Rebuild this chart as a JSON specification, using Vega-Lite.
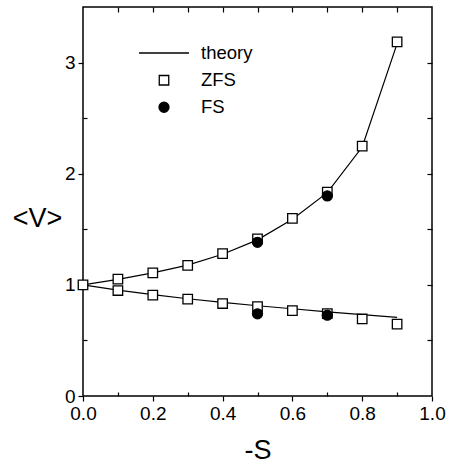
{
  "$schema": "https://vega.github.io/schema/vega-lite/v6.json",
  "width": 349,
  "height": 389,
  "autosize": "none",
  "padding": {"left": 83, "top": 7, "right": 22, "bottom": 71},
  "background": "white",
  "datasets": {
    "theory": [
      {"s": 0.0, "v": 1.0, "branch": "upper"},
      {"s": 0.1, "v": 1.05, "branch": "upper"},
      {"s": 0.2, "v": 1.108, "branch": "upper"},
      {"s": 0.3, "v": 1.178, "branch": "upper"},
      {"s": 0.4, "v": 1.275, "branch": "upper"},
      {"s": 0.5, "v": 1.405, "branch": "upper"},
      {"s": 0.6, "v": 1.59, "branch": "upper"},
      {"s": 0.7, "v": 1.83, "branch": "upper"},
      {"s": 0.8, "v": 2.24, "branch": "upper"},
      {"s": 0.9, "v": 3.17, "branch": "upper"},
      {"s": 0.0, "v": 1.0, "branch": "lower"},
      {"s": 0.1, "v": 0.953, "branch": "lower"},
      {"s": 0.2, "v": 0.912, "branch": "lower"},
      {"s": 0.3, "v": 0.875, "branch": "lower"},
      {"s": 0.4, "v": 0.842, "branch": "lower"},
      {"s": 0.5, "v": 0.812, "branch": "lower"},
      {"s": 0.6, "v": 0.785, "branch": "lower"},
      {"s": 0.7, "v": 0.757, "branch": "lower"},
      {"s": 0.8, "v": 0.732, "branch": "lower"},
      {"s": 0.9, "v": 0.708, "branch": "lower"}
    ],
    "points": [
      {"s": 0.0, "v": 1.0, "series": "ZFS"},
      {"s": 0.1, "v": 1.052, "series": "ZFS"},
      {"s": 0.2, "v": 1.107, "series": "ZFS"},
      {"s": 0.3, "v": 1.175, "series": "ZFS"},
      {"s": 0.4, "v": 1.281, "series": "ZFS"},
      {"s": 0.5, "v": 1.414, "series": "ZFS"},
      {"s": 0.6, "v": 1.598, "series": "ZFS"},
      {"s": 0.7, "v": 1.835, "series": "ZFS"},
      {"s": 0.8, "v": 2.249, "series": "ZFS"},
      {"s": 0.9, "v": 3.186, "series": "ZFS"},
      {"s": 0.1, "v": 0.949, "series": "ZFS"},
      {"s": 0.2, "v": 0.908, "series": "ZFS"},
      {"s": 0.3, "v": 0.872, "series": "ZFS"},
      {"s": 0.4, "v": 0.832, "series": "ZFS"},
      {"s": 0.5, "v": 0.805, "series": "ZFS"},
      {"s": 0.6, "v": 0.769, "series": "ZFS"},
      {"s": 0.7, "v": 0.741, "series": "ZFS"},
      {"s": 0.8, "v": 0.693, "series": "ZFS"},
      {"s": 0.9, "v": 0.646, "series": "ZFS"},
      {"s": 0.5, "v": 1.383, "series": "FS"},
      {"s": 0.7, "v": 1.80, "series": "FS"},
      {"s": 0.5, "v": 0.739, "series": "FS"},
      {"s": 0.7, "v": 0.727, "series": "FS"}
    ]
  },
  "layer": [
    {
      "data": {"name": "theory"},
      "mark": {"type": "line", "color": "black", "strokeWidth": 1.2},
      "encoding": {
        "x": {
          "field": "s", "type": "quantitative",
          "scale": {"domain": [0, 1], "nice": false, "zero": false},
          "axis": {
            "orient": "bottom", "values": [0, 0.2, 0.4, 0.6, 0.8, 1.0], "format": ".1f",
            "tickSize": 5, "labelPadding": 3, "labelFontSize": 19, "labelFlush": false,
            "title": "-S", "titleFontSize": 27, "titlePadding": 14
          }
        },
        "y": {
          "field": "v", "type": "quantitative",
          "scale": {"domain": [0, 3.5], "nice": false, "zero": false},
          "axis": {
            "orient": "left", "values": [0, 1, 2, 3],
            "tickSize": 5, "labelPadding": 3, "labelFontSize": 19, "labelFlush": false,
            "title": "<V>", "titleFontSize": 27, "titleAngle": 0,
            "titleX": -46, "titleY": 211, "titleAlign": "center", "titleBaseline": "middle"
          }
        },
        "detail": {"field": "branch", "type": "nominal"}
      }
    },
    {
      "data": {"name": "points"},
      "mark": {"type": "point", "strokeWidth": 1.3, "opacity": 1, "filled": true},
      "encoding": {
        "x": {
          "field": "s", "type": "quantitative",
          "axis": {"orient": "bottom", "values": [0.1, 0.3, 0.5, 0.7, 0.9], "tickSize": -4, "labels": false, "title": null}
        },
        "y": {
          "field": "v", "type": "quantitative",
          "axis": {"orient": "left", "values": [0.5, 1.5, 2.5], "tickSize": -4, "labels": false, "title": null}
        },
        "shape": {
          "field": "series", "type": "nominal",
          "scale": {"domain": ["theory", "ZFS", "FS"], "range": ["stroke", "square", "circle"]},
          "legend": {"title": null}
        },
        "fill": {
          "field": "series", "type": "nominal",
          "scale": {"domain": ["theory", "ZFS", "FS"], "range": ["black", "white", "black"]},
          "legend": {"title": null}
        },
        "stroke": {
          "field": "series", "type": "nominal",
          "scale": {"domain": ["theory", "ZFS", "FS"], "range": ["black", "black", "black"]},
          "legend": {"title": null}
        },
        "size": {
          "field": "series", "type": "nominal",
          "scale": {"type": "ordinal", "domain": ["theory", "ZFS", "FS"], "range": [2500, 90, 100]},
          "legend": {"title": null}
        }
      }
    },
    {
      "data": {"name": "points"},
      "mark": {"type": "point", "opacity": 0},
      "encoding": {
        "x": {
          "field": "s", "type": "quantitative",
          "axis": {"orient": "top", "values": [0.1, 0.2, 0.3, 0.4, 0.5, 0.6, 0.7, 0.8, 0.9], "tickSize": -5, "labels": false, "title": null}
        },
        "y": {
          "field": "v", "type": "quantitative",
          "axis": {"orient": "right", "values": [0.5, 1, 1.5, 2, 2.5, 3], "tickSize": -5, "labels": false, "title": null}
        }
      }
    }
  ],
  "resolve": {"axis": {"x": "independent", "y": "independent"}},
  "config": {
    "font": "Liberation Sans",
    "view": {"stroke": "black", "strokeWidth": 1.5},
    "axis": {
      "domain": false, "grid": false, "tickColor": "black", "tickWidth": 1.2,
      "labelColor": "black", "titleColor": "black",
      "labelFont": "Liberation Sans", "titleFont": "Liberation Sans", "titleFontWeight": "normal"
    },
    "legend": {
      "orient": "none", "legendX": 55, "legendY": 20,
      "labelFont": "Liberation Sans", "labelFontSize": 18.5, "labelColor": "black",
      "labelOffset": 11, "rowPadding": 8,
      "symbolStrokeWidth": 1.3
    }
  }
}
